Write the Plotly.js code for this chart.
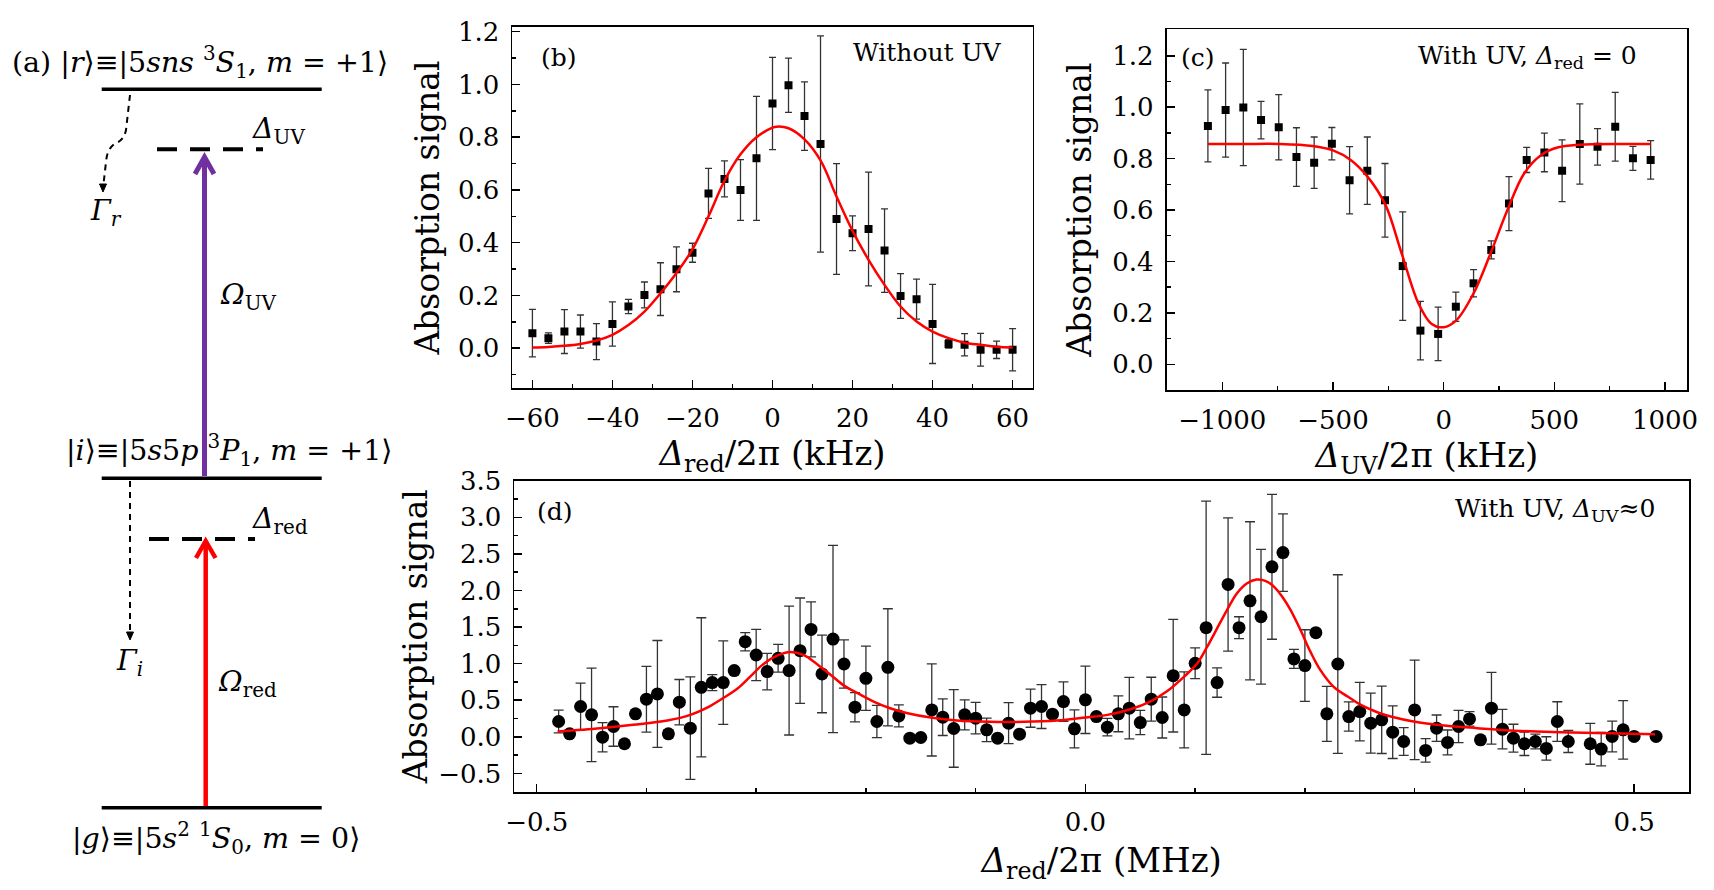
<!DOCTYPE html>
<html><head><meta charset="utf-8">
<script src="https://cdn.plot.ly/plotly-3.0.1.min.js"></script>
<style>html,body{margin:0;padding:0;background:#fff}</style>
</head><body><div id="chart" style="width:1714px;height:890px"></div>
<script>
// ---------- Panel (b): without UV ----------
const bX = [-60,-56,-52,-48,-44,-40,-36,-32,-28,-24,-20,-16,-12,-8,-4,0,4,8,12,16,20,24,28,32,36,40,44,48,52,56,60];
const bY = [0.057,0.038,0.063,0.063,0.025,0.092,0.158,0.202,0.224,0.299,0.362,0.587,0.642,0.600,0.720,0.928,0.997,0.880,0.774,0.490,0.436,0.452,0.370,0.198,0.186,0.092,0.016,0.013,-0.006,-0.006,-0.006];
const bErr = [0.09,0.02,0.083,0.063,0.068,0.084,0.027,0.049,0.10,0.085,0.036,0.095,0.068,0.115,0.235,0.175,0.103,0.13,0.41,0.21,0.066,0.216,0.158,0.085,0.076,0.15,0.016,0.042,0.062,0.033,0.08];
const bFitX = [-60,-56,-52,-48,-44,-40,-36,-32,-28,-24,-20,-16,-12,-8,-4,0,1,4,8,12,16,20,24,28,32,36,40,44,48,52,56,60];
const bFitY = [0.003,0.005,0.009,0.016,0.029,0.051,0.088,0.139,0.208,0.285,0.375,0.500,0.635,0.735,0.800,0.836,0.840,0.834,0.792,0.712,0.575,0.445,0.335,0.240,0.158,0.101,0.063,0.038,0.021,0.013,0.006,0.003];

// ---------- Panel (c): with UV, Δred = 0 ----------
const cX = [-1065,-985,-905,-825,-745,-665,-585,-505,-425,-345,-265,-185,-105,-25,55,135,215,295,375,455,535,615,695,775,855,935];
const cY = [0.927,0.989,0.999,0.950,0.922,0.806,0.784,0.858,0.716,0.753,0.638,0.382,0.131,0.118,0.224,0.315,0.445,0.625,0.795,0.824,0.753,0.857,0.846,0.924,0.801,0.795];
const cErr = [0.14,0.183,0.226,0.073,0.127,0.114,0.10,0.063,0.131,0.131,0.143,0.211,0.114,0.104,0.057,0.053,0.035,0.105,0.049,0.075,0.12,0.156,0.071,0.134,0.047,0.075];
const cFitX = [-1065,-900,-745,-592,-497,-420,-344,-263,-190,-114,-57,0,58,135,212,288,364,441,518,613,800,935];
const cFitY = [0.857,0.857,0.857,0.849,0.831,0.795,0.730,0.620,0.432,0.237,0.159,0.144,0.172,0.276,0.432,0.600,0.743,0.814,0.844,0.854,0.857,0.857];

// ---------- Panel (d): with UV, ΔUV ≈ 0 ----------
const dX = [-0.48,-0.47,-0.46,-0.45,-0.44,-0.43,-0.42,-0.41,-0.40,-0.39,-0.38,-0.37,-0.36,-0.35,-0.34,-0.33,-0.32,-0.31,-0.30,-0.29,-0.28,-0.27,-0.26,-0.25,-0.24,-0.23,-0.22,-0.21,-0.20,-0.19,-0.18,-0.17,-0.16,-0.15,-0.14,-0.13,-0.12,-0.11,-0.10,-0.09,-0.08,-0.07,-0.06,-0.05,-0.04,-0.03,-0.02,-0.01,0.00,0.01,0.02,0.03,0.04,0.05,0.06,0.07,0.08,0.09,0.10,0.11,0.12,0.13,0.14,0.15,0.16,0.17,0.18,0.19,0.20,0.21,0.22,0.23,0.24,0.25,0.26,0.27,0.28,0.29,0.30,0.31,0.32,0.33,0.34,0.35,0.36,0.37,0.38,0.39,0.40,0.41,0.42,0.43,0.44,0.46,0.47,0.48,0.49,0.50,0.52];
const dY = [0.209,0.041,0.414,0.300,-0.005,0.141,-0.095,0.314,0.514,0.586,0.041,0.473,0.118,0.677,0.741,0.741,0.905,1.300,1.118,0.891,1.073,0.905,1.177,1.468,0.859,1.336,0.995,0.405,0.800,0.209,0.950,0.286,-0.018,-0.009,0.368,0.268,0.114,0.300,0.255,0.095,-0.018,0.186,0.036,0.391,0.414,0.309,0.482,0.109,0.505,0.277,0.132,0.314,0.391,0.195,0.514,0.264,0.836,0.368,1.005,1.491,0.741,2.082,1.491,1.859,1.641,2.323,2.518,1.064,0.973,1.423,0.314,0.995,0.277,0.345,0.186,0.232,0.064,-0.064,0.368,-0.186,0.118,-0.077,0.141,0.245,-0.041,0.391,0.105,-0.018,-0.095,-0.064,-0.159,0.209,-0.064,-0.095,-0.168,0.005,0.095,0.005,0.005];
const dErr = [0.155,0.03,0.32,0.64,0.2,0.27,0.02,0.03,0.45,0.73,0.05,0.31,0.70,0.95,0.11,0.57,0.03,0.125,0.35,0.25,0.19,0.88,0.72,0.375,0.53,1.28,0.33,0.2,0.44,0.22,0.8,0.15,0.02,0.02,0.63,0.25,0.53,0.205,0.215,0.16,0.02,0.28,0.02,0.26,0.3,0.03,0.27,0.26,0.46,0.03,0.12,0.245,0.42,0.165,0.3,0.28,0.77,0.52,0.21,1.73,0.2,0.91,0.15,1.08,0.92,0.99,0.53,0.13,0.49,0.03,0.375,1.22,0.2,0.4,0.41,0.46,0.36,0.19,0.68,0.16,0.18,0.17,0.22,0.1,0.03,0.49,0.27,0.19,0.16,0.1,0.16,0.27,0.15,0.28,0.23,0.21,0.4,0.03,0.03];
const dFitX = [-0.481,-0.442,-0.412,-0.381,-0.360,-0.342,-0.330,-0.317,-0.305,-0.293,-0.281,-0.269,-0.257,-0.245,-0.232,-0.220,-0.208,-0.193,-0.178,-0.162,-0.141,-0.117,-0.087,-0.056,-0.026,0.000,0.020,0.041,0.059,0.074,0.090,0.102,0.111,0.120,0.129,0.138,0.147,0.156,0.164,0.172,0.180,0.187,0.196,0.205,0.214,0.226,0.239,0.251,0.266,0.281,0.299,0.327,0.357,0.387,0.433,0.478,0.519];
const dFitY = [0.073,0.118,0.164,0.223,0.300,0.420,0.530,0.660,0.830,1.000,1.110,1.160,1.120,1.000,0.845,0.700,0.600,0.482,0.391,0.323,0.264,0.223,0.205,0.205,0.223,0.264,0.300,0.377,0.482,0.618,0.823,1.005,1.232,1.482,1.732,1.959,2.095,2.150,2.132,2.050,1.900,1.732,1.459,1.164,0.914,0.686,0.550,0.436,0.336,0.268,0.209,0.155,0.118,0.086,0.064,0.050,0.036];

// ---------- styling ----------
const FONT = 'DejaVu Serif, serif';
const W = 1714, H = 890;
const pxX = x => x / W;
const pxY = y => 1 - y / H;

function ax(extra) {
  return Object.assign({
    showline: true, linecolor: 'black', linewidth: 1.8, mirror: true,
    ticks: 'inside', ticklen: 8, tickwidth: 1.5, tickcolor: 'black',
    showgrid: false, zeroline: false, automargin: false, fixedrange: true,
    tickfont: {family: FONT, size: 26, color: 'black'},
    ticklabelstandoff: 6
  }, extra);
}
const minorT = (dtick) => ({ticks: 'inside', ticklen: 4, tickwidth: 1.5, tickcolor: 'black', dtick, tick0: 0, showgrid: false});
const xTitleFont = {family: FONT, size: 34, color: 'black'};
const yTitleFont = {family: FONT, size: 33, color: 'black'};

const errStyle = (arr, w) => ({type: 'data', array: arr, visible: true, color: '#333', thickness: 1.3, width: w});

const traces = [
  {x: bX, y: bY, type: 'scatter', mode: 'markers', xaxis: 'x', yaxis: 'y',
   marker: {symbol: 'square', size: 8, color: 'black'}, error_y: errStyle(bErr, 3.5)},
  {x: bFitX, y: bFitY, type: 'scatter', mode: 'lines', xaxis: 'x', yaxis: 'y',
   line: {color: 'red', width: 2.5, shape: 'spline', smoothing: 1}},
  {x: cX, y: cY, type: 'scatter', mode: 'markers', xaxis: 'x2', yaxis: 'y2',
   marker: {symbol: 'square', size: 8, color: 'black'}, error_y: errStyle(cErr, 3.5)},
  {x: cFitX, y: cFitY, type: 'scatter', mode: 'lines', xaxis: 'x2', yaxis: 'y2',
   line: {color: 'red', width: 2.5, shape: 'spline', smoothing: 1}},
  {x: dX, y: dY, type: 'scatter', mode: 'markers', xaxis: 'x3', yaxis: 'y3',
   marker: {symbol: 'circle', size: 13, color: 'black'}, error_y: errStyle(dErr, 5)},
  {x: dFitX, y: dFitY, type: 'scatter', mode: 'lines', xaxis: 'x3', yaxis: 'y3',
   line: {color: 'red', width: 2.5, shape: 'spline', smoothing: 1}}
];

// level-diagram helpers (panel a) in pixel units on hidden axes x4/y4
const L = (x0, y0, x1, y1, color, width, dash) => ({type: 'line', xref: 'x4', yref: 'y4', x0, y0, x1, y1,
  line: {color, width, dash: dash || 'solid'}, layer: 'above'});
const P = (path, color, width, fill, dash) => ({type: 'path', xref: 'x4', yref: 'y4', path,
  line: {color, width, dash: dash || 'solid'}, fillcolor: fill || 'rgba(0,0,0,0)', layer: 'above'});
const PURPLE = '#7030A0';
const shapes = [
  L(101.7, 89.3, 321.7, 89.3, 'black', 3.5),
  L(101.7, 478.3, 321.7, 478.3, 'black', 3.5),
  L(101.7, 807.7, 321.7, 807.7, 'black', 3.5),
  L(157, 149.3, 263, 149.3, 'black', 4, '20px,13px'),
  L(149, 539, 255, 539, 'black', 4, '20px,13px'),
  L(204.5, 476, 204.5, 158, PURPLE, 5),
  P('M195,174 L204.5,157 L214,174', PURPLE, 5),
  L(205.7, 806, 205.7, 543, 'red', 4.5),
  P('M196,558 L205.7,541 L215.5,558', 'red', 4.5),
  L(130, 481, 130, 632, 'black', 2, '6px,5px'),
  P('M126.5,632 L133.5,632 L130,640 Z', 'black', 1, 'black'),
  P('M130,95 L126,130 Q124,140 116,143 Q107,148 106,162 L103.5,184', 'black', 2, null, '6px,5px'),
  P('M99.5,184 L106.5,184 L103,192 Z', 'black', 1, 'black')
];

const A4 = (text, x, y, xanchor) => ({text, x, y, xref: 'x4', yref: 'y4', xanchor: xanchor || 'left', yanchor: 'middle',
  showarrow: false, font: {family: FONT, size: 28.5, color: 'black'}});
const AP = (text, x, y, xanchor) => ({text, x: pxX(x), y: pxY(y), xref: 'paper', yref: 'paper', xanchor: xanchor || 'center', yanchor: 'middle',
  showarrow: false, font: {family: FONT, size: 25, color: 'black'}});

const annotations = [
  A4('(a) |<i>r</i>⟩≡|5<i>sns</i> <sup>3</sup><i>S</i><sub>1</sub>, <i>m</i> = +1⟩', 200, 62, 'center'),
  A4('<i>Δ</i><sub>UV</sub>', 250, 130),
  A4('<i>Γ</i><sub><i>r</i></sub>', 88, 212),
  A4('<i>Ω</i><sub>UV</sub>', 218, 296),
  A4('|<i>i</i>⟩≡|5<i>s</i>5<i>p</i> <sup>3</sup><i>P</i><sub>1</sub>, <i>m</i> = +1⟩', 229, 450, 'center'),
  A4('<i>Δ</i><sub>red</sub>', 250, 520),
  A4('<i>Γ</i><sub><i>i</i></sub>', 114, 662),
  A4('<i>Ω</i><sub>red</sub>', 216, 683),
  A4('|<i>g</i>⟩≡|5<i>s</i><sup>2</sup> <sup>1</sup><i>S</i><sub>0</sub>, <i>m</i> = 0⟩', 216, 838, 'center'),
  AP('(b)', 559, 58),
  AP('Without UV', 927, 52),
  AP('(c)', 1198, 58),
  AP('With UV, <i>Δ</i><sub>red</sub> = 0', 1527, 57),
  AP('(d)', 555, 511),
  AP('With UV, <i>Δ</i><sub>UV</sub>≈0', 1555, 510)
];

const layout = {
  width: W, height: H, margin: {l: 0, r: 0, t: 0, b: 0},
  paper_bgcolor: 'white', plot_bgcolor: 'rgba(0,0,0,0)',
  showlegend: false, hovermode: false,
  font: {family: FONT, color: 'black'},
  xaxis: ax({domain: [pxX(512.4), pxX(1032.6)], anchor: 'y', range: [-65, 65], tickvals: [-60, -40, -20, 0, 20, 40, 60],
    minor: minorT(10),
    title: {text: '<i>Δ</i><sub>red</sub>/2π (kHz)', font: xTitleFont, standoff: 9}}),
  yaxis: ax({domain: [pxY(388.3), pxY(26.7)], anchor: 'x', range: [-0.152, 1.219], dtick: 0.2, tick0: 0, tickformat: '.1f',
    minor: minorT(0.1),
    title: {text: 'Absorption signal', font: yTitleFont, standoff: 8}}),
  xaxis2: ax({domain: [pxX(1166.5), pxX(1687.4)], anchor: 'y2', range: [-1252, 1101], tickvals: [-1000, -500, 0, 500, 1000],
    minor: minorT(250),
    title: {text: '<i>Δ</i><sub>UV</sub>/2π (kHz)', font: xTitleFont, standoff: 9}}),
  yaxis2: ax({domain: [pxY(390), pxY(29.3)], anchor: 'x2', range: [-0.1, 1.303], dtick: 0.2, tick0: 0, tickformat: '.1f',
    minor: minorT(0.1),
    title: {text: 'Absorption signal', font: yTitleFont, standoff: 10}}),
  xaxis3: ax({domain: [pxX(514.3), pxX(1689)], anchor: 'y3', range: [-0.5204, 0.550], tickvals: [-0.5, 0, 0.5], tickformat: '.1f',
    minor: minorT(0.1),
    title: {text: '<i>Δ</i><sub>red</sub>/2π (MHz)', font: xTitleFont, standoff: 12}}),
  yaxis3: ax({domain: [pxY(791.7), pxY(480.7)], anchor: 'x3', range: [-0.75, 3.5], dtick: 0.5, tick0: 0, tickformat: '.1f',
    minor: minorT(0.25),
    title: {text: 'Absorption signal', font: yTitleFont, standoff: 0}}),
  xaxis4: {domain: [0, 440 / W], range: [0, 440], visible: false, fixedrange: true, anchor: 'y4'},
  yaxis4: {domain: [0, 1], range: [H, 0], visible: false, fixedrange: true, anchor: 'x4'},
  shapes, annotations
};

Plotly.newPlot('chart', traces, layout, {displayModeBar: false, staticPlot: true});
</script></body></html>
